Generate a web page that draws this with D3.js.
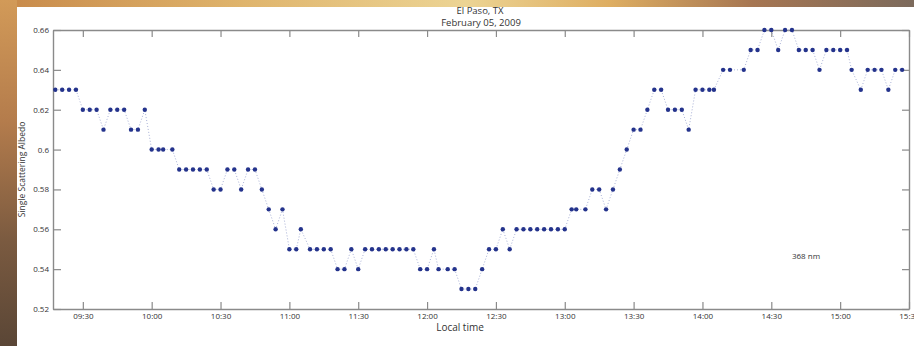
<!DOCTYPE html>
<html>
<head>
<meta charset="utf-8">
<script src="https://cdn.jsdelivr.net/npm/d3@7"></script>
<style>
  html, body { margin: 0; padding: 0; background: #6a5040; }
  svg { display: block; }
  text { font-family: "Open Sans", "Noto Sans", sans-serif; fill: #333; }
</style>
</head>
<body>
<svg id="chart"></svg>
<script>
// sample times (local) and single scattering albedo at 368 nm
const times = [
  "09:18", "09:21", "09:24", "09:27", "09:30", "09:33", "09:36", "09:39", "09:42", "09:45",
  "09:48", "09:51", "09:54", "09:57", "10:00", "10:03", "10:05", "10:09", "10:12", "10:15",
  "10:18", "10:21", "10:24", "10:27", "10:30", "10:33", "10:36", "10:39", "10:42", "10:45",
  "10:48", "10:51", "10:54", "10:57", "11:00", "11:03", "11:05", "11:09", "11:12", "11:15",
  "11:18", "11:21", "11:24", "11:27", "11:30", "11:33", "11:36", "11:39", "11:42", "11:45",
  "11:48", "11:51", "11:54", "11:57", "12:00", "12:03", "12:05", "12:09", "12:12", "12:15",
  "12:18", "12:21", "12:24", "12:27", "12:30", "12:33", "12:36", "12:39", "12:42", "12:45",
  "12:48", "12:51", "12:54", "12:57", "13:00", "13:03", "13:05", "13:09", "13:12", "13:15",
  "13:18", "13:21", "13:24", "13:27", "13:30", "13:33", "13:36", "13:39", "13:42", "13:45",
  "13:48", "13:51", "13:54", "13:57", "14:00", "14:03", "14:05", "14:09", "14:12", "14:18",
  "14:21", "14:24", "14:27", "14:30", "14:33", "14:36", "14:39", "14:42", "14:45", "14:48",
  "14:51", "14:54", "14:57", "15:00", "15:03", "15:05", "15:09", "15:12", "15:15", "15:18",
  "15:21", "15:24", "15:27"
];
const albedo = [
  0.63, 0.63, 0.63, 0.63, 0.62, 0.62, 0.62, 0.61, 0.62, 0.62,
  0.62, 0.61, 0.61, 0.62, 0.60, 0.60, 0.60, 0.60, 0.59, 0.59,
  0.59, 0.59, 0.59, 0.58, 0.58, 0.59, 0.59, 0.58, 0.59, 0.59,
  0.58, 0.57, 0.56, 0.57, 0.55, 0.55, 0.56, 0.55, 0.55, 0.55,
  0.55, 0.54, 0.54, 0.55, 0.54, 0.55, 0.55, 0.55, 0.55, 0.55,
  0.55, 0.55, 0.55, 0.54, 0.54, 0.55, 0.54, 0.54, 0.54, 0.53,
  0.53, 0.53, 0.54, 0.55, 0.55, 0.56, 0.55, 0.56, 0.56, 0.56,
  0.56, 0.56, 0.56, 0.56, 0.56, 0.57, 0.57, 0.57, 0.58, 0.58,
  0.57, 0.58, 0.59, 0.60, 0.61, 0.61, 0.62, 0.63, 0.63, 0.62,
  0.62, 0.62, 0.61, 0.63, 0.63, 0.63, 0.63, 0.64, 0.64, 0.64,
  0.65, 0.65, 0.66, 0.66, 0.65, 0.66, 0.66, 0.65, 0.65, 0.65,
  0.64, 0.65, 0.65, 0.65, 0.65, 0.64, 0.63, 0.64, 0.64, 0.64,
  0.63, 0.64, 0.64
];
const xTicks = ["09:30", "10:00", "10:30", "11:00", "11:30", "12:00", "12:30",
  "13:00", "13:30", "14:00", "14:30", "15:00", "15:30"];
const yTicks = [0.52, 0.54, 0.56, 0.58, 0.6, 0.62, 0.64, 0.66];
const xRange = ["09:17", "15:30"];
const yRange = [0.52, 0.66];

const width = 914, height = 346;
const margin = { top: 30, right: 5, bottom: 37, left: 53 };

const parse = d3.timeParse("%H:%M");
const data = times.map((t, i) => ({ t: parse(t), v: albedo[i] }));

const svg = d3.select("#chart").attr("width", width).attr("height", height);

// backdrop (slide background around the white figure)
const defs = svg.append("defs");
const topGrad = defs.append("linearGradient").attr("id", "topGrad");
[["0%", "#c98c4c"], ["25%", "#dfb46c"], ["50%", "#ecd494"], ["66%", "#deae62"],
 ["82%", "#a67652"], ["100%", "#7c6a5c"]].forEach(s =>
  topGrad.append("stop").attr("offset", s[0]).attr("stop-color", s[1]));
const leftGrad = defs.append("linearGradient").attr("id", "leftGrad")
  .attr("x1", 0).attr("y1", 0).attr("x2", 0).attr("y2", 1);
[["0%", "#d29a58"], ["35%", "#b47c4c"], ["70%", "#7a5a40"], ["100%", "#5a4636"]].forEach(s =>
  leftGrad.append("stop").attr("offset", s[0]).attr("stop-color", s[1]));

svg.append("rect").attr("width", width).attr("height", height).attr("fill", "url(#leftGrad)");
svg.append("rect").attr("x", 17).attr("width", width - 17).attr("height", 7).attr("fill", "url(#topGrad)");
svg.append("rect").attr("x", 17).attr("y", 7).attr("width", width - 17).attr("height", height - 7)
  .attr("fill", "#fff");

const x = d3.scaleTime()
  .domain(xRange.map(parse))
  .range([margin.left, width - margin.right]);
const y = d3.scaleLinear()
  .domain(yRange)
  .range([height - margin.bottom, margin.top]);

const fmtY = d => d3.format(".2f")(d).replace(/0$/, "");
const fmtX = d3.timeFormat("%H:%M");
const xt = xTicks.map(parse);

function styleAxis(g) {
  g.selectAll(".domain").attr("stroke", "#8a8a8a").attr("stroke-width", 1.4);
  g.selectAll(".tick line").attr("stroke", "#8a8a8a").attr("stroke-width", 1.2);
  g.selectAll(".tick text").attr("fill", "#333").style("font-size", "8px")
    .style("font-family", "'Open Sans', sans-serif");
}

svg.append("g")
  .attr("transform", `translate(0,${height - margin.bottom})`)
  .call(d3.axisBottom(x).tickValues(xt).tickFormat(fmtX).tickSize(-7).tickSizeOuter(0).tickPadding(4))
  .call(styleAxis);
svg.append("g")
  .attr("transform", `translate(0,${margin.top})`)
  .call(d3.axisTop(x).tickValues(xt).tickFormat("").tickSize(-7).tickSizeOuter(0))
  .call(styleAxis);
svg.append("g")
  .attr("transform", `translate(${margin.left},0)`)
  .call(d3.axisLeft(y).tickValues(yTicks).tickFormat(fmtY).tickSize(-8).tickSizeOuter(0).tickPadding(4))
  .call(styleAxis);
svg.append("g")
  .attr("transform", `translate(${width - margin.right},0)`)
  .call(d3.axisRight(y).tickValues(yTicks).tickFormat("").tickSize(-7).tickSizeOuter(0))
  .call(styleAxis);

// dotted connecting line
svg.append("path")
  .datum(data)
  .attr("fill", "none")
  .attr("stroke", "#a9b1d6")
  .attr("stroke-width", 1)
  .attr("stroke-dasharray", "1,2")
  .attr("d", d3.line().x(d => x(d.t)).y(d => y(d.v)));

svg.append("g")
  .selectAll("circle")
  .data(data)
  .join("circle")
  .attr("cx", d => x(d.t))
  .attr("cy", d => y(d.v))
  .attr("r", 2.2)
  .attr("fill", "#24338c");

// titles and labels
svg.append("text").attr("x", 480).attr("y", 14).attr("text-anchor", "middle")
  .style("font-size", "9.5px").text("El Paso, TX");
svg.append("text").attr("x", 481).attr("y", 25.5).attr("text-anchor", "middle")
  .style("font-size", "9.5px").text("February 05, 2009");
svg.append("text").attr("x", 460).attr("y", 331).attr("text-anchor", "middle")
  .style("font-size", "10px").text("Local time");
svg.append("text")
  .attr("transform", `translate(25,${(margin.top + height - margin.bottom) / 2}) rotate(-90)`)
  .attr("text-anchor", "middle")
  .style("font-size", "8.5px").text("Single Scattering Albedo");
svg.append("text").attr("x", 806).attr("y", 259).attr("text-anchor", "middle")
  .style("font-size", "8px").text("368 nm");
</script>
</body>
</html>
